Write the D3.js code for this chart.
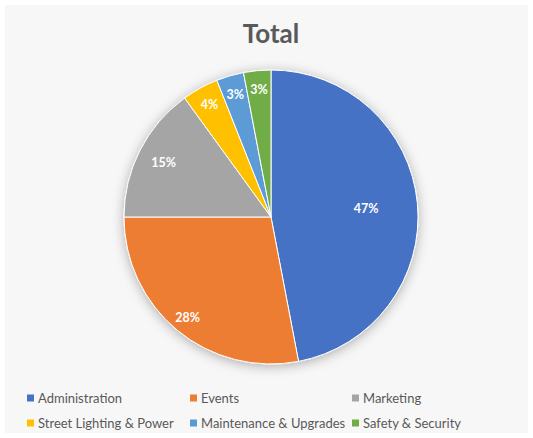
<!DOCTYPE html>
<html>
<head>
<meta charset="utf-8">
<script src="https://cdn.jsdelivr.net/npm/d3@7"></script>
<style>
  html, body { margin: 0; padding: 0; background: #ffffff; }
  svg { display: block; }
</style>
</head>
<body>
<svg id="chart" width="533" height="438"></svg>
<script>
// Budget share by category
const categories = ["Administration", "Events", "Marketing", "Street Lighting & Power", "Maintenance & Upgrades", "Safety & Security"];
const shares = [47, 28, 15, 4, 3, 3];
const sliceColors = ["#4472C4", "#ED7D31", "#A5A5A5", "#FFC000", "#5B9BD5", "#70AD47"];
const chartTitle = "Total";

// Label distance from centre, as a fraction of the radius, per slice
const labelRadius = [0.65, 0.89, 0.82, 0.87, 0.87, 0.87];

const W = 533, H = 438;
const cx = 271, cy = 217, R = 147;

const svg = d3.select("#chart");

// Chart area background
svg.append("rect")
  .attr("x", 5).attr("y", 5)
  .attr("width", W - 10).attr("height", H - 10)
  .attr("fill", "#f7f7f7");

// Soft shadow under the pie
const defs = svg.append("defs");
const f = defs.append("filter").attr("id", "pieShadow")
  .attr("x", "-20%").attr("y", "-20%").attr("width", "140%").attr("height", "140%");
f.append("feDropShadow")
  .attr("dx", 0).attr("dy", 2)
  .attr("stdDeviation", 6)
  .attr("flood-color", "#000").attr("flood-opacity", 0.3);

// Title
svg.append("text")
  .attr("x", cx).attr("y", 43)
  .attr("text-anchor", "middle")
  .attr("font-family", "Lato, 'Open Sans', sans-serif")
  .attr("font-weight", "bold")
  .attr("font-size", 26)
  .attr("fill", "#595959")
  .text(chartTitle);

const data = categories.map((c, i) => ({ name: c, value: shares[i], color: sliceColors[i], lr: labelRadius[i] }));

const pie = d3.pie().value(d => d.value).sort(null);
const arcs = pie(data);
const arc = d3.arc().innerRadius(0).outerRadius(R);

const g = svg.append("g").attr("transform", `translate(${cx},${cy})`);

g.append("g").attr("filter", "url(#pieShadow)")
  .selectAll("path")
  .data(arcs)
  .join("path")
  .attr("d", arc)
  .attr("fill", d => d.data.color)
  .attr("stroke", "#ffffff")
  .attr("stroke-width", 1);

const total = d3.sum(shares);
g.selectAll("text.lbl")
  .data(arcs)
  .join("text")
  .attr("class", "lbl")
  .attr("transform", d => {
    const a = (d.startAngle + d.endAngle) / 2;
    const r = R * d.data.lr;
    return `translate(${Math.sin(a) * r},${-Math.cos(a) * r})`;
  })
  .attr("text-anchor", "middle")
  .attr("dominant-baseline", "central")
  .attr("font-family", "Lato, 'Open Sans', sans-serif")
  .attr("font-weight", "bold")
  .attr("font-size", 12.5)
  .attr("fill", "#ffffff")
  .text(d => Math.round(d.data.value / total * 100) + "%");

// Legend: three columns, two rows
const colX = [27, 190, 352];
const rowY = [398, 423];
const leg = svg.append("g");
const items = leg.selectAll("g")
  .data(data)
  .join("g")
  .attr("transform", (d, i) => `translate(${colX[i % 3]},${rowY[Math.floor(i / 3)]})`);
items.append("rect")
  .attr("x", 0).attr("y", -3.5)
  .attr("width", 7).attr("height", 7)
  .attr("fill", d => d.color);
items.append("text")
  .attr("x", 11).attr("y", 0)
  .attr("dominant-baseline", "central")
  .attr("font-family", "Lato, 'Open Sans', sans-serif")
  .attr("font-size", 13)
  .attr("fill", "#595959")
  .text(d => d.name);
</script>
</body>
</html>
